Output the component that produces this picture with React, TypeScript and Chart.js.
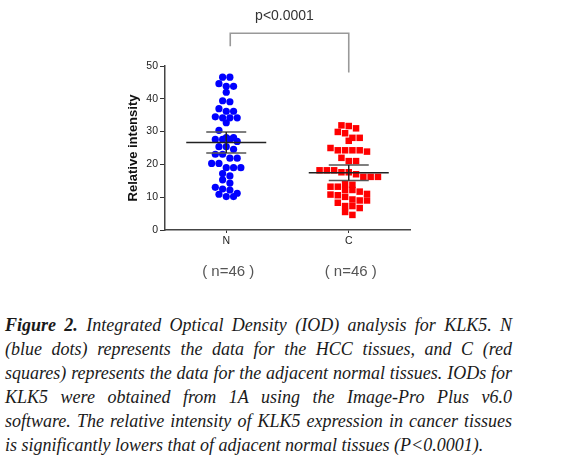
import React, { useEffect, useRef } from "react";
import { Chart, registerables } from "chart.js";

Chart.register(...registerables);

const categories = ["N", "C"];
const nValues = [
  46.6, 46.6, 44.6, 43.8, 43.8, 42.0, 39.4, 39.1, 37.0, 36.2, 36.2, 34.5,
  34.2, 34.2, 34.2, 32.7, 30.4, 28.2, 28.2, 27.6, 27.6, 27.6, 27.0, 25.4,
  25.4, 24.6, 23.1, 23.1, 21.9, 21.9, 20.3, 20.3, 19.0, 19.0, 19.0, 17.2,
  16.5, 15.3, 14.3, 13.0, 12.5, 12.2, 11.2, 10.9, 10.2, 10.2,
];
const cValues = [
  31.9, 31.7, 31.0, 29.9, 29.5, 28.1, 28.1, 27.2, 25.0, 24.3, 24.3, 24.3,
  24.3, 23.9, 22.0, 21.0, 21.0, 18.2, 18.2, 18.2, 17.6, 17.6, 17.0, 16.2,
  16.2, 16.2, 14.0, 13.8, 13.2, 13.2, 12.2, 12.2, 11.7, 11.0, 10.8, 10.6,
  10.1, 9.3, 9.0, 9.0, 8.3, 7.3, 7.3, 6.7, 5.5, 4.6,
];
const groupLabels = ["( n=46 )", "( n=46 )"];
const pLabel = "p<0.0001";
const yTitle = "Relative intensity";
// bracket in data units: [left leg bottom, top, right leg bottom]
const bracketLevels = [56, 60, 48];

const SANS = "'Liberation Sans', Arial, sans-serif";

function stats(vals: number[]) {
  const n = vals.length;
  const mean = vals.reduce((a, b) => a + b, 0) / n;
  const sd = Math.sqrt(vals.reduce((a, b) => a + (b - mean) ** 2, 0) / (n - 1));
  const ci = (2.014 * sd) / Math.sqrt(n);
  return { mean, lo: mean - ci, hi: mean + ci };
}

// GraphPad-like scatter: points falling in the same vertical bin sit side by side
function binOffsets(py: number[], top: number, binH: number, gap: number): number[] {
  const bins = new Map<number, number[]>();
  py.forEach((y, i) => {
    const b = Math.floor((y - top) / binH);
    if (!bins.has(b)) bins.set(b, []);
    bins.get(b)!.push(i);
  });
  const out = new Array(py.length).fill(0);
  bins.forEach((members) => {
    const k = members.length;
    members.forEach((idx, j) => {
      out[idx] = (j - (k - 1) / 2) * gap;
    });
  });
  return out;
}

const annotPlugin = {
  id: "annot",
  afterDatasetsDraw(chart: any) {
    const { ctx, scales } = chart;
    const xs = scales.x;
    const ys = scales.y;
    const groups = [nValues, cValues];
    ctx.save();
    groups.forEach((vals, gi) => {
      const s = stats(vals);
      const cx = xs.getPixelForValue(gi + 1);
      const ym = ys.getPixelForValue(s.mean);
      const yl = ys.getPixelForValue(s.lo);
      const yh = ys.getPixelForValue(s.hi);
      ctx.lineWidth = 1.5;
      ctx.strokeStyle = "#555";
      ctx.beginPath();
      ctx.moveTo(cx - 20, yh);
      ctx.lineTo(cx + 20, yh);
      ctx.moveTo(cx - 20, yl);
      ctx.lineTo(cx + 20, yl);
      ctx.stroke();
      ctx.strokeStyle = "#222";
      ctx.beginPath();
      ctx.moveTo(cx, yh);
      ctx.lineTo(cx, yl);
      ctx.moveTo(cx - 40, ym);
      ctx.lineTo(cx + 40, ym);
      ctx.stroke();
      ctx.fillStyle = "#555";
      ctx.font = `15px ${SANS}`;
      ctx.textAlign = "center";
      ctx.textBaseline = "middle";
      ctx.fillText(groupLabels[gi], cx + 2, chart.chartArea.bottom + 42);
    });
    const x1 = xs.getPixelForValue(1) + 4;
    const x2 = xs.getPixelForValue(2);
    ctx.strokeStyle = "#999";
    ctx.lineWidth = 1.6;
    ctx.beginPath();
    ctx.moveTo(x1, ys.getPixelForValue(bracketLevels[0]));
    ctx.lineTo(x1, ys.getPixelForValue(bracketLevels[1]));
    ctx.lineTo(x2, ys.getPixelForValue(bracketLevels[1]));
    ctx.lineTo(x2, ys.getPixelForValue(bracketLevels[2]));
    ctx.stroke();
    ctx.fillStyle = "#333";
    ctx.font = `14px ${SANS}`;
    ctx.textAlign = "center";
    ctx.textBaseline = "middle";
    ctx.fillText(pLabel, (x1 + x2) / 2 - 5, ys.getPixelForValue(bracketLevels[1]) - 17);
    ctx.restore();
  },
};

const captionLines = [
  "Integrated Optical Density (IOD) analysis for KLK5. N",
  "(blue dots) represents the data for the HCC tissues, and C (red",
  "squares) represents the data for the adjacent normal tissues. IODs for",
  "KLK5 were obtained from 1A using the Image-Pro Plus v6.0",
  "software. The relative intensity of KLK5 expression in cancer tissues",
  "is significantly lowers that of adjacent normal tissues (P<0.0001).",
];

export default function App() {
  const ref = useRef<HTMLCanvasElement>(null);
  useEffect(() => {
    const tickFont = { family: SANS, size: 10.5 };
    const chart = new Chart(ref.current as HTMLCanvasElement, {
      type: "scatter",
      data: {
        datasets: [
          {
            label: categories[0],
            data: nValues.map((v) => ({ x: 1, y: v })),
            backgroundColor: "#0000ff",
            borderWidth: 0,
            pointRadius: 3.6,
            pointStyle: "circle",
          },
          {
            label: categories[1],
            data: cValues.map((v) => ({ x: 2, y: v })),
            backgroundColor: "#ff0000",
            borderWidth: 0,
            pointRadius: 4.6,
            pointStyle: "rect",
          },
        ],
      },
      options: {
        responsive: false,
        animation: false,
        layout: { padding: { left: 120, top: 66, right: 156, bottom: 0 } },
        plugins: { legend: { display: false }, tooltip: { enabled: false } },
        scales: {
          x: {
            type: "linear",
            min: 0.5,
            max: 2.5,
            afterBuildTicks: (s: any) => {
              s.ticks = categories.map((_, i) => ({ value: i + 1 }));
            },
            afterFit: (s: any) => {
              s.height = 70;
            },
            ticks: {
              callback: (v: any) => categories[Math.round(v) - 1] ?? "",
              font: tickFont,
              color: "#222",
              padding: 2,
              autoSkip: false,
              maxRotation: 0,
            },
            grid: { drawOnChartArea: false, drawTicks: true, tickLength: 3, color: "#333", lineWidth: 1 },
            border: { color: "#444", width: 1.5 },
          },
          y: {
            min: 0,
            max: 50,
            afterFit: (s: any) => {
              s.width = 45;
            },
            ticks: { stepSize: 10, font: tickFont, color: "#222", padding: 2 },
            title: {
              display: true,
              text: yTitle,
              font: { family: SANS, size: 13, weight: "bold" },
              color: "#111",
              padding: { top: 6, bottom: 0 },
            },
            grid: { drawOnChartArea: false, drawTicks: true, tickLength: 5, color: "#333", lineWidth: 1 },
            border: { color: "#444", width: 1.5 },
          },
        },
      } as any,
      plugins: [annotPlugin],
    });
    const xs: any = chart.scales.x;
    const ysc: any = chart.scales.y;
    const top = chart.chartArea.top;
    [nValues, cValues].forEach((vals, gi) => {
      const cx = xs.getPixelForValue(gi + 1);
      const py = vals.map((v) => ysc.getPixelForValue(v));
      const offs = binOffsets(py, top, 8, 7.3);
      (chart.data.datasets[gi] as any).data = vals.map((v, i) => ({
        x: xs.getValueForPixel(cx + offs[i]),
        y: v,
      }));
    });
    chart.update();
    return () => chart.destroy();
  }, []);

  return (
    <div style={{ position: "absolute", left: 0, top: 0, width: 566, height: 459, background: "#fff" }}>
      <canvas ref={ref} width={566} height={300} style={{ position: "absolute", left: 0, top: 0, width: 566, height: 300 }} />
      <div
        style={{
          position: "absolute",
          left: 5,
          top: 313,
          width: 507,
          fontFamily: '"Liberation Serif", "Times New Roman", serif',
          fontStyle: "italic",
          fontSize: 18,
          lineHeight: "24px",
          color: "#1a1a1a",
        }}
      >
        {captionLines.map((line, i) => {
          const last = i === captionLines.length - 1;
          return (
            <div
              key={i}
              style={{
                textAlign: "justify",
                textAlignLast: last ? "left" : "justify",
                wordSpacing: last ? 0 : -1,
                whiteSpace: "nowrap",
              }}
            >
              {i === 0 ? <b>Figure 2. </b> : null}
              {line}
            </div>
          );
        })}
      </div>
    </div>
  );
}
